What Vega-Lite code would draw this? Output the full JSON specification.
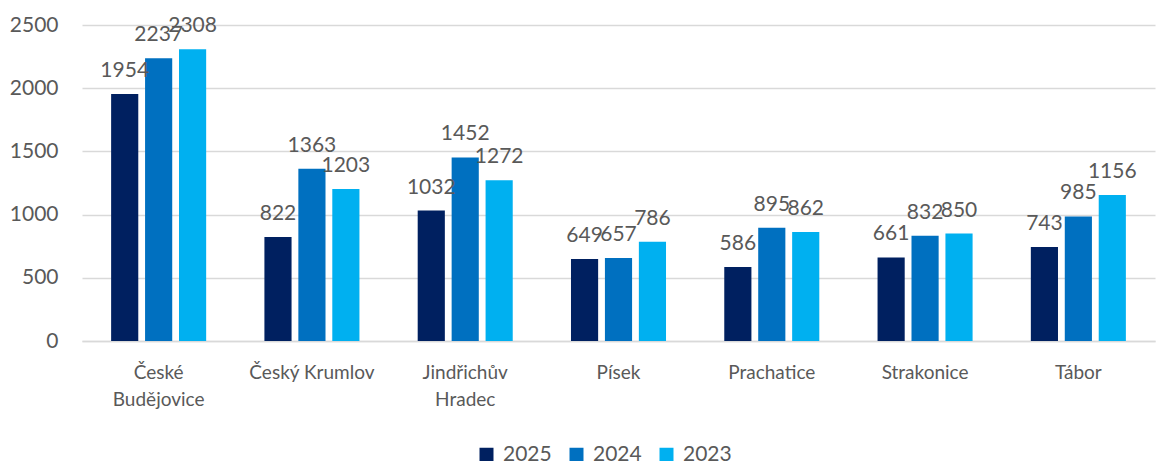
{
  "$schema": "https://vega.github.io/schema/vega-lite/v6.json",
  "autosize": {"type": "none"},
  "width": 1073,
  "height": 316,
  "padding": {"left": 82, "top": 25, "right": 7, "bottom": 120},
  "background": "white",
  "config": {
    "font": "Lato",
    "view": {"stroke": null}
  },
  "data": {
    "values": [
      {"region": "České Budějovice", "year": "2025", "value": 1954},
      {"region": "České Budějovice", "year": "2024", "value": 2237},
      {"region": "České Budějovice", "year": "2023", "value": 2308},
      {"region": "Český Krumlov", "year": "2025", "value": 822},
      {"region": "Český Krumlov", "year": "2024", "value": 1363},
      {"region": "Český Krumlov", "year": "2023", "value": 1203},
      {"region": "Jindřichův Hradec", "year": "2025", "value": 1032},
      {"region": "Jindřichův Hradec", "year": "2024", "value": 1452},
      {"region": "Jindřichův Hradec", "year": "2023", "value": 1272},
      {"region": "Písek", "year": "2025", "value": 649},
      {"region": "Písek", "year": "2024", "value": 657},
      {"region": "Písek", "year": "2023", "value": 786},
      {"region": "Prachatice", "year": "2025", "value": 586},
      {"region": "Prachatice", "year": "2024", "value": 895},
      {"region": "Prachatice", "year": "2023", "value": 862},
      {"region": "Strakonice", "year": "2025", "value": 661},
      {"region": "Strakonice", "year": "2024", "value": 832},
      {"region": "Strakonice", "year": "2023", "value": 850},
      {"region": "Tábor", "year": "2025", "value": 743},
      {"region": "Tábor", "year": "2024", "value": 985},
      {"region": "Tábor", "year": "2023", "value": 1156}
    ]
  },
  "encoding": {
    "x": {
      "field": "region",
      "type": "nominal",
      "sort": null,
      "scale": {"paddingInner": 0.38, "paddingOuter": 0.19},
      "axis": {
        "title": null,
        "labelAngle": 0,
        "labelFontSize": 19,
        "labelColor": "#595959",
        "labelPadding": 22,
        "labelLineHeight": 27,
        "ticks": false,
        "domainColor": "#d9d9d9",
        "domainWidth": 1.5,
        "labelExpr": "datum.value == 'České Budějovice' ? ['České', 'Budějovice'] : datum.value == 'Jindřichův Hradec' ? ['Jindřichův', 'Hradec'] : datum.value"
      }
    },
    "xOffset": {
      "field": "year",
      "type": "nominal",
      "sort": ["2025", "2024", "2023"],
      "scale": {"paddingInner": 0.2, "paddingOuter": 0}
    },
    "y": {
      "field": "value",
      "type": "quantitative",
      "scale": {"domain": [0, 2500], "nice": false},
      "axis": {
        "title": null,
        "values": [0, 500, 1000, 1500, 2000, 2500],
        "format": "d",
        "labelFontSize": 21,
        "labelColor": "#595959",
        "labelPadding": 24,
        "ticks": false,
        "domain": false,
        "gridColor": "#d9d9d9",
        "gridWidth": 1.3
      }
    }
  },
  "layer": [
    {
      "mark": {"type": "bar"},
      "encoding": {
        "color": {
          "field": "year",
          "type": "nominal",
          "sort": ["2025", "2024", "2023"],
          "scale": {"domain": ["2025", "2024", "2023"], "range": ["#002060", "#0070C0", "#00B0F0"]},
          "legend": {
            "title": null,
            "orient": "none",
            "direction": "horizontal",
            "legendX": 394,
            "legendY": 419,
            "symbolType": "square",
            "symbolSize": 196,
            "symbolStrokeWidth": 0,
            "labelFontSize": 21,
            "labelColor": "#595959",
            "labelOffset": 6,
            "columnPadding": 14
          }
        }
      }
    },
    {
      "mark": {"type": "text", "baseline": "alphabetic", "dy": -17, "fontSize": 21, "color": "#595959"},
      "encoding": {
        "text": {"field": "value", "type": "quantitative", "format": "d"}
      }
    }
  ]
}
